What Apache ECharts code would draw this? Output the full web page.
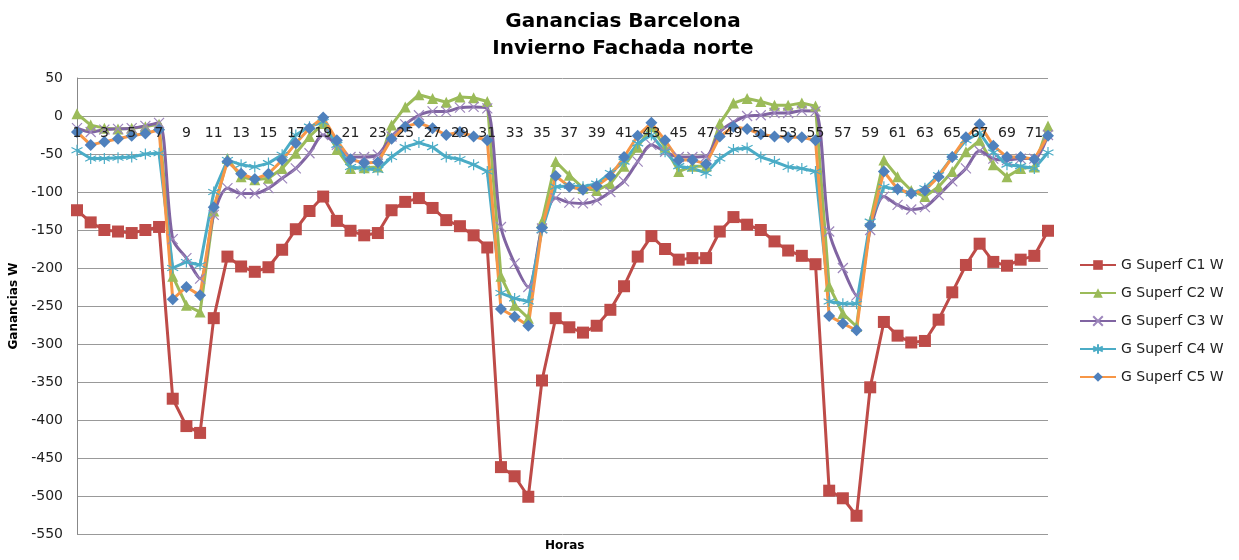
<!DOCTYPE html>
<html>
<head>
<meta charset="utf-8">
<script src="https://cdn.jsdelivr.net/npm/echarts@6/dist/echarts.min.js"></script>
<style>html,body{margin:0;padding:0;background:#fff}#c{width:1239px;height:560px}</style>
</head>
<body>
<div id="c"></div>
<script>
const hours = ['1','2','3','4','5','6','7','8','9','10','11','12','13','14','15','16','17','18','19','20','21','22','23','24','25','26','27','28','29','30','31','32','33','34','35','36','37','38','39','40','41','42','43','44','45','46','47','48','49','50','51','52','53','54','55','56','57','58','59','60','61','62','63','64','65','66','67','68','69','70','71','72'];

const c1 = [-124,-140,-150,-152,-154,-150,-146,-372,-408,-417,-266,-185,-198,-205,-199,-176,-149,-125,-106,-138,-151,-157,-154,-124,-113,-108,-121,-137,-145,-157,-173,-462,-474,-501,-348,-266,-278,-285,-276,-255,-224,-185,-158,-175,-189,-187,-187,-152,-133,-143,-150,-165,-177,-184,-195,-493,-503,-526,-357,-271,-289,-298,-296,-268,-232,-196,-168,-192,-197,-189,-184,-151];
const c2 = [3,-12,-16,-17,-16,-14,-11,-211,-249,-258,-125,-56,-80,-84,-82,-69,-49,-27,-10,-44,-69,-68,-67,-12,12,28,23,18,25,24,19,-211,-249,-266,-139,-60,-78,-95,-98,-89,-66,-41,-14,-41,-73,-66,-66,-10,17,23,19,14,14,17,13,-224,-260,-277,-139,-58,-80,-98,-106,-93,-73,-47,-32,-64,-80,-69,-67,-13];
const c3 = [-16,-21,-18,-17,-16,-13,-9,-162,-187,-214,-130,-95,-102,-102,-95,-82,-69,-49,-25,-38,-54,-54,-51,-27,-11,1,6,6,11,12,10,-146,-194,-225,-148,-108,-114,-115,-111,-100,-86,-60,-38,-47,-54,-54,-53,-21,-8,0,1,4,4,7,6,-152,-200,-236,-150,-106,-117,-123,-120,-104,-86,-69,-46,-56,-58,-56,-56,-25];
const c4 = [-45,-56,-56,-55,-54,-50,-49,-200,-192,-196,-100,-58,-64,-67,-62,-51,-25,-14,-8,-38,-67,-69,-71,-54,-41,-35,-41,-54,-57,-64,-73,-233,-240,-244,-150,-93,-92,-93,-89,-75,-60,-36,-25,-47,-66,-69,-75,-56,-44,-42,-54,-60,-67,-69,-73,-244,-247,-247,-139,-93,-97,-102,-95,-78,-54,-32,-22,-48,-64,-66,-69,-48];
const c5 = [-21,-38,-34,-30,-26,-23,-18,-241,-225,-236,-120,-60,-76,-83,-76,-58,-36,-16,-2,-32,-57,-62,-61,-30,-14,-9,-16,-25,-21,-27,-32,-254,-264,-276,-147,-79,-93,-97,-92,-79,-54,-26,-9,-32,-58,-58,-63,-27,-14,-17,-24,-27,-28,-28,-32,-263,-273,-282,-144,-73,-96,-102,-98,-80,-54,-28,-11,-39,-54,-54,-57,-26];

const seriesNames = ['G Superf C1 W','G Superf C2 W','G Superf C3 W','G Superf C4 W','G Superf C5 W'];
const yTicks = {min:-550, max:50, interval:50};

const FONT = 'DejaVu Sans';
const xMark = 'path://M0,0 L10,10 M10,0 L0,10';
const star = 'path://M5,0 L5,10 M0,2.5 L10,7.5 M0,7.5 L10,2.5';

const chart = echarts.init(document.getElementById('c'), null, {renderer:'canvas'});
chart.setOption({
  animation:false,
  backgroundColor:'#fff',
  title:{
    text:'Ganancias Barcelona\nInvierno Fachada norte',
    left:618, top:3, textAlign:'center',
    textStyle:{fontFamily:FONT, fontWeight:'bold', fontSize:20, color:'#000', lineHeight:27}
  },
  graphic:[{
    type:'text', left:545, top:540,
    style:{text:'Horas', font:'bold 12px "DejaVu Sans"', fill:'#000'}
  }],
  legend:{
    orient:'vertical', left:1074, top:253, itemGap:14, itemWidth:36, itemHeight:12,
    textStyle:{fontFamily:FONT, fontSize:14, color:'#222'},
    data:seriesNames
  },
  grid:{left:77, right:191, top:78, bottom:26, containLabel:false},
  xAxis:{
    type:'category', data:hours, boundaryGap:false, z:10,
    axisLine:{onZero:false, show:false},
    offset:-418,
    axisTick:{show:false},
    axisLabel:{interval:1, fontFamily:FONT, fontSize:14, color:'#222', margin:10},
    splitLine:{show:false}
  },
  yAxis:{
    type:'value', min:yTicks.min, max:yTicks.max, interval:yTicks.interval,
    name:'Ganancias W', nameLocation:'middle', nameGap:56, nameRotate:90,
    nameTextStyle:{fontFamily:FONT, fontWeight:'bold', fontSize:12, color:'#000'},
    axisLine:{show:true, lineStyle:{color:'#888'}},
    axisTick:{show:false},
    axisLabel:{fontFamily:FONT, fontSize:14, color:'#222', margin:14},
    splitLine:{lineStyle:{color:'#999', width:1}}
  },
  series:[
    {name:seriesNames[0], type:'line', data:c1, symbol:'rect', symbolSize:12, showAllSymbol:true,
     lineStyle:{color:'#BE4B48', width:3}, itemStyle:{color:'#BE4B48'}},
    {name:seriesNames[1], type:'line', data:c2, symbol:'triangle', symbolSize:11, showAllSymbol:true,
     lineStyle:{color:'#9BBB59', width:3}, itemStyle:{color:'#9BBB59'}},
    {name:seriesNames[2], type:'line', data:c3, symbol:xMark, symbolSize:10, smooth:0.3, showAllSymbol:true,
     lineStyle:{color:'#8064A2', width:3}, itemStyle:{color:'#8064A2', borderColor:'#9D86BC', borderWidth:1.2}},
    {name:seriesNames[3], type:'line', data:c4, symbol:star, symbolSize:11, showAllSymbol:true,
     lineStyle:{color:'#4BACC6', width:3}, itemStyle:{color:'#4BACC6', borderColor:'#4BACC6', borderWidth:1.2}},
    {name:seriesNames[4], type:'line', data:c5, symbol:'diamond', symbolSize:12, showAllSymbol:true,
     lineStyle:{color:'#F79646', width:3}, itemStyle:{color:'#4F81BD'}}
  ]
});
</script>
</body>
</html>
